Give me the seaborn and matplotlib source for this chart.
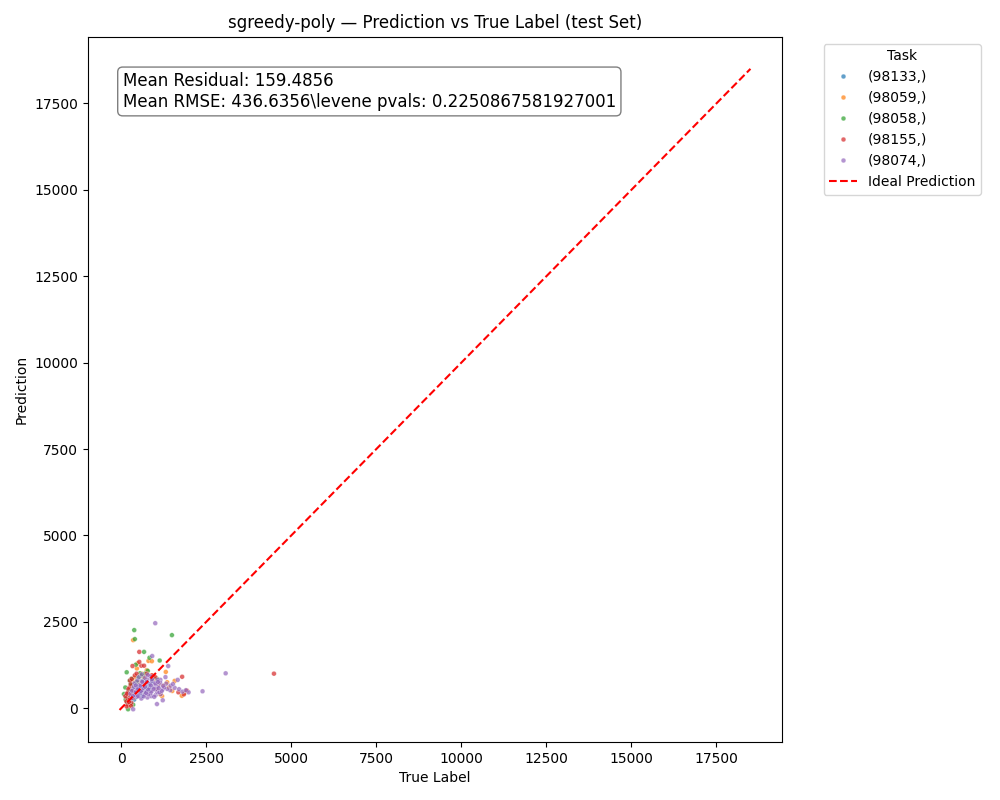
import pandas as pd
import numpy as np
import matplotlib
matplotlib.use('Agg')
import matplotlib.pyplot as plt
import seaborn as sns

tasks = ['(98133,)', '(98059,)', '(98058,)', '(98155,)', '(98074,)']

# true label / prediction per task
true_98133 = [180, 220, 260, 300, 340, 380, 420, 460, 500, 550,
              600, 650, 700, 750, 800, 850, 900, 300, 350, 400,
              250, 450, 520, 620, 720, 820, 380, 280, 200, 480]
pred_98133 = [150, 250, 200, 350, 300, 450, 400, 500, 550, 450,
              600, 500, 650, 550, 700, 600, 750, 650, 550, 700,
              450, 350, 800, 350, 450, 500, 250, 120, 380, 620]

true_98059 = [350, 800, 900, 480, 460, 1310, 1570, 1780, 1200, 220,
              260, 300, 330, 400, 600, 700, 1000, 1100, 1250, 1400,
              1500, 650, 250, 900, 1050, 1150, 550, 750, 1850, 1350]
pred_98059 = [1970, 1370, 1360, 1300, 1150, 1050, 790, 360, 350, 200,
              400, 650, 800, 900, 1000, 850, 850, 700, 650, 600,
              500, 900, 100, 950, 550, 400, 750, 1100, 430, 750]

true_98058 = [382, 400, 1490, 670, 830, 1130, 430, 160, 550, 780,
              80, 200, 150, 250, 300, 120, 350, 500, 600, 180,
              280, 700, 900, 1050, 220, 130, 450, 650]
pred_98058 = [2260, 2000, 2115, 1630, 1460, 1380, 1260, 1040, 1010, 1080,
              410, -30, 300, 800, 850, 600, 100, 900, 950, 150,
              700, 1000, 850, 850, 500, 250, 750, 800]

true_98155 = [530, 590, 670, 330, 530, 4490, 1790, 1680, 1840, 1930,
              150, 180, 200, 220, 250, 270, 300, 320, 350, 380,
              160, 240, 280, 210, 190, 260, 310, 400, 450, 900,
              1000, 750, 120, 230, 170, 290]
pred_98155 = [1630, 1230, 1230, 1220, 1340, 1000, 910, 460, 400, 510,
              200, 300, 100, 400, 250, 350, 150, 500, 300, 450,
              50, 600, 700, 550, 450, 800, 850, 950, 1000, 950,
              900, 1000, 350, 180, 420, 60]

true_98074 = [1000, 910, 1380, 3070, 1660, 1440, 1570, 1980, 2390, 1220, 1050, 350, 1150, 1300, 1350,
              310, 460, 590, 770, 880, 270, 410, 560, 690, 860, 1010, 1160, 320, 440, 620, 740, 930, 1060, 1210,
              370, 510, 640, 820, 960, 1090, 1260, 390, 540, 720, 840, 1020, 1140, 1320, 470, 610, 760, 910, 1070,
              520, 690, 860, 600, 780,
              350, 500, 660, 800, 970, 1120, 420, 580, 730, 880, 1030, 1190, 480, 650, 790, 950, 1100,
              560, 700, 870, 1000, 430, 620, 750, 900, 1080, 1230, 1450, 1520, 1700, 1800, 1900]
pred_98074 = [2460, 1510, 1220, 1010, 820, 520, 590, 460, 490, 230, 120, -30, 820, 900, 560,
              290, 330, 280, 310, 350, 420, 380, 440, 400, 430, 380, 410, 510, 490, 530, 480, 520, 470, 540,
              620, 580, 640, 590, 610, 650, 600, 720, 680, 730, 700, 690, 740, 710, 800, 780, 830, 790, 820,
              900, 880, 920, 980, 960,
              360, 350, 340, 400, 330, 460, 460, 500, 440, 480, 560, 500, 560, 590, 540, 560, 580,
              650, 620, 660, 720, 660, 760, 760, 840, 760, 650, 650, 700, 550, 480, 520]

ideal_line = [-50, 18500]

true_all = [true_98133, true_98059, true_98058, true_98155, true_98074]
pred_all = [pred_98133, pred_98059, pred_98058, pred_98155, pred_98074]

frames = []
for t, xs, ys in zip(tasks, true_all, pred_all):
    frames.append(pd.DataFrame({'True Label': xs, 'Prediction': ys, 'Task': t}))
df = pd.concat(frames, ignore_index=True)

fig, ax = plt.subplots(figsize=(10, 8), dpi=100)
sns.scatterplot(data=df, x='True Label', y='Prediction', hue='Task', hue_order=tasks,
                palette='tab10', alpha=0.7, s=12, ax=ax)
ax.plot(ideal_line, ideal_line, 'r--', label='Ideal Prediction')

txt = 'Mean Residual: 159.4856\nMean RMSE: 436.6356\\levene pvals: 0.2250867581927001'
ax.text(0.05, 0.95, txt, transform=ax.transAxes, fontsize=12, va='top',
        bbox=dict(boxstyle='round', facecolor='white', alpha=0.5))

ax.set_title('sgreedy-poly — Prediction vs True Label (test Set)')
ax.set_xlabel('True Label')
ax.set_ylabel('Prediction')
ax.legend(title='Task', bbox_to_anchor=(1.05, 1), loc='upper left')

plt.subplots_adjust(left=0.088, right=0.782, top=0.954, bottom=0.0725)
plt.savefig('out.png')
